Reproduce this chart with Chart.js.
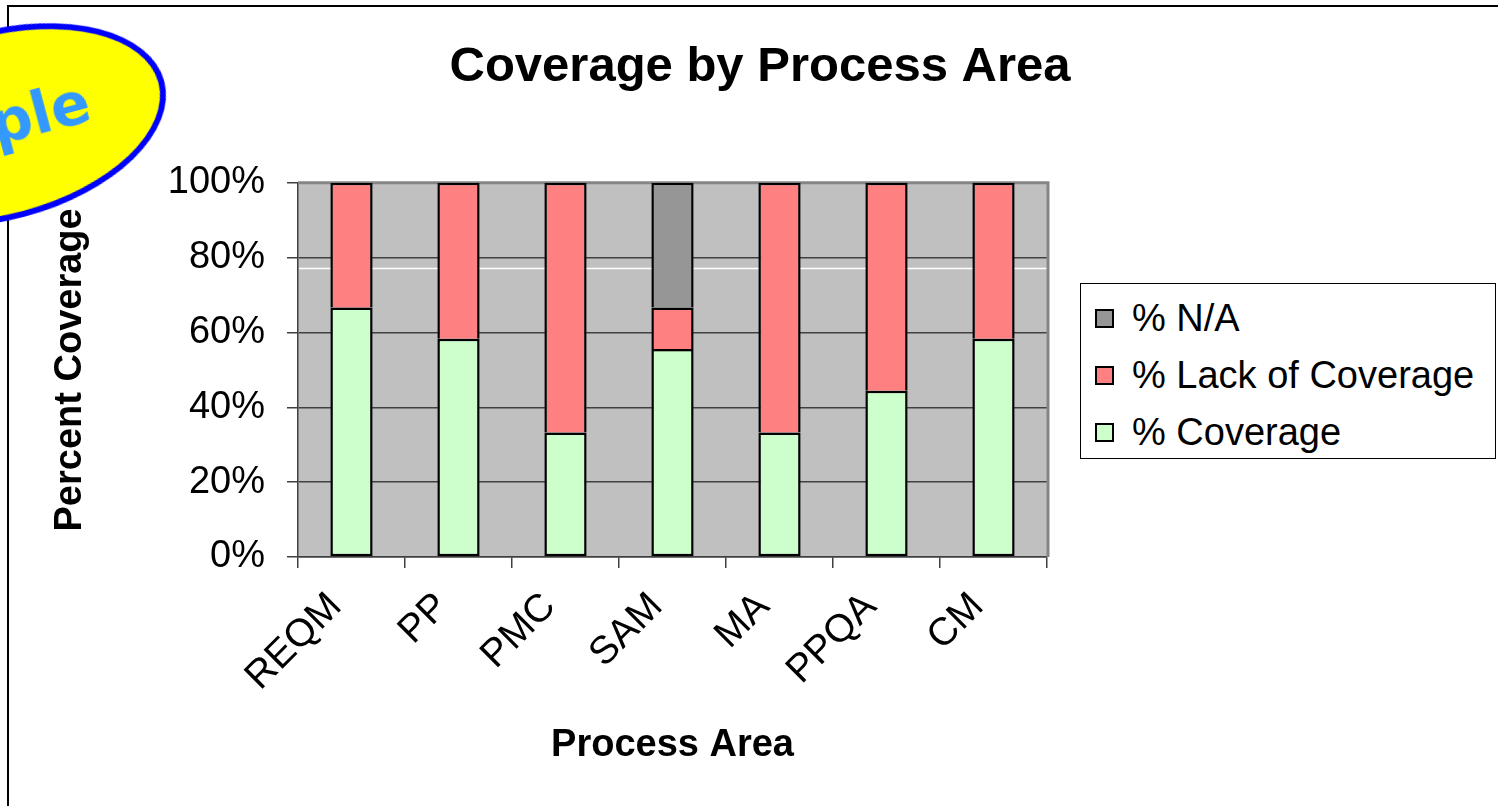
<!DOCTYPE html>
<html>
<head>
<meta charset="utf-8">
<script src="https://cdn.jsdelivr.net/npm/chart.js@4.4.1/dist/chart.umd.min.js"></script>
<style>
html,body{margin:0;padding:0;background:#fff;overflow:hidden}
#wrap{position:relative;width:1498px;height:806px;overflow:hidden}
#chart{position:absolute;left:0;top:0}
#frame{position:absolute;left:7px;top:5px;width:1600px;height:900px;border-top:2px solid #000;border-left:2px solid #000;pointer-events:none}
#legend{position:absolute;left:1080px;top:283px;width:416px;height:176px;border:1.5px solid #000;background:#fff;box-sizing:border-box;font-family:"Liberation Sans",Arial,sans-serif;font-size:38px;color:#000}
.item{position:absolute;left:14px;height:46px;display:flex;align-items:center;white-space:nowrap}
.sw{width:15px;height:15px;border:2px solid #000;margin-right:18px;flex:none}
#stamp{position:absolute;left:-170px;top:30px;width:340px;height:190px;border-radius:50%;background:#ffff00;border:6px solid #0000ff;transform:rotate(-15deg);box-sizing:border-box}
#stamp span{position:absolute;right:72px;top:59px;font-family:"DejaVu Sans",sans-serif;font-weight:bold;font-size:58px;line-height:58px;color:#3399ff;white-space:nowrap}
</style>
</head>
<body>
<div id="wrap">
  <canvas id="chart" width="1498" height="806"></canvas>
  <div id="frame"></div>
  <div id="legend"></div>
  <div id="stamp"><span>Sample</span></div>
</div>
<script>
const categories = ['REQM', 'PP', 'PMC', 'SAM', 'MA', 'PPQA', 'CM'];
const coverage = [66.7, 58.3, 33.3, 55.6, 33.3, 44.4, 58.3];
const lackOfCoverage = [33.3, 41.7, 66.7, 11.1, 66.7, 55.6, 41.7];
const notApplicable = [0, 0, 0, 33.3, 0, 0, 0];
const yTickValues = [0, 20, 40, 60, 80, 100];
const seriesLabels = ['% Coverage', '% Lack of Coverage', '% N/A'];
const seriesColors = ['#ccffcc', '#ff8080', '#969696'];
const whiteLineValue = 77.1;

const FONT = '"Liberation Sans", Arial, sans-serif';

const plotDecor = {
  id: 'plotDecor',
  beforeDraw(chart) {
    const {ctx, chartArea: a} = chart;
    ctx.save();
    ctx.fillStyle = '#c0c0c0';
    ctx.fillRect(a.left, a.top, a.right - a.left, a.bottom - a.top);
    ctx.restore();
  },
  beforeDatasetsDraw(chart) {
    const {ctx, chartArea: a, scales} = chart;
    ctx.save();
    const wy = Math.round(scales.y.getPixelForValue(whiteLineValue)) + 0.5;
    ctx.strokeStyle = '#ffffff';
    ctx.lineWidth = 1.5;
    ctx.beginPath();
    ctx.moveTo(a.left + 1, wy);
    ctx.lineTo(a.right, wy);
    ctx.stroke();
    ctx.strokeStyle = '#858585';
    ctx.lineWidth = 3;
    ctx.beginPath();
    ctx.moveTo(a.left, a.top);
    ctx.lineTo(a.right + 1, a.top);
    ctx.lineTo(a.right + 1, a.bottom);
    ctx.stroke();
    ctx.restore();
  }
};

const datasets = [coverage, lackOfCoverage, notApplicable].map((d, i) => ({
  label: seriesLabels[i],
  data: d,
  yAxisID: 'y',
  backgroundColor: seriesColors[i],
  borderColor: '#000000',
  borderWidth: 2.5,
  borderSkipped: i === 0 ? false : 'start',
  barPercentage: 0.395,
  categoryPercentage: 1.0
}));

new Chart(document.getElementById('chart'), {
  type: 'bar',
  data: {labels: categories, datasets},
  options: {
    responsive: false,
    animation: false,
    devicePixelRatio: 1,
    layout: {padding: {left: 22, right: 0, top: 0, bottom: 0}},
    plugins: {
      legend: {display: false},
      tooltip: {enabled: false},
      title: {
        display: true,
        text: 'Coverage by Process Area',
        color: '#000',
        font: {family: FONT, size: 49, weight: 'bold', lineHeight: 1.2},
        padding: {top: 38, bottom: 86}
      }
    },
    scales: {
      x: {
        stacked: true,
        offset: true,
        afterFit(scale) { scale.height = 249; },
        grid: {display: true, drawOnChartArea: false, drawTicks: true, tickLength: 11, color: '#404040', lineWidth: 1.5, offset: true},
        border: {display: true, color: '#404040', width: 1.5},
        ticks: {color: '#000', font: {family: FONT, size: 39}, minRotation: 45, maxRotation: 45, padding: 16, labelOffset: -16, autoSkip: false},
        title: {display: true, text: 'Process Area', color: '#000', font: {family: FONT, size: 38, weight: 'bold', lineHeight: 1.2}, padding: {top: 0, bottom: 38}}
      },
      y: {
        stacked: true,
        position: 'left',
        min: 0,
        max: 100,
        afterFit(scale) { scale.width = 276; },
        afterBuildTicks(scale) { scale.ticks = yTickValues.map(v => ({value: v})); },
        grid: {display: true, drawTicks: true, tickLength: 11, color: '#404040', lineWidth: 1.5},
        border: {display: true, color: '#404040', width: 1.5},
        ticks: {color: '#000', font: {family: FONT, size: 38}, padding: 22, callback: v => v + '%'},
        title: {display: true, text: 'Percent Coverage', color: '#000', font: {family: FONT, size: 38, weight: 'bold', lineHeight: 1.2}, padding: {top: 26, bottom: 0}}
      },
      legendSpace: {
        type: 'linear',
        position: 'right',
        display: true,
        afterFit(scale) { scale.width = 451; },
        grid: {display: false, drawTicks: false},
        border: {display: false},
        ticks: {display: false},
        title: {display: false}
      }
    }
  },
  plugins: [plotDecor]
});

const legendEl = document.getElementById('legend');
const rowTops = [11, 68, 125];
[2, 1, 0].forEach((si, k) => {
  const item = document.createElement('div');
  item.className = 'item';
  item.style.top = rowTops[k] + 'px';
  const sw = document.createElement('div');
  sw.className = 'sw';
  sw.style.background = seriesColors[si];
  const tx = document.createElement('span');
  tx.textContent = seriesLabels[si];
  item.appendChild(sw);
  item.appendChild(tx);
  legendEl.appendChild(item);
});
</script>
</body>
</html>
